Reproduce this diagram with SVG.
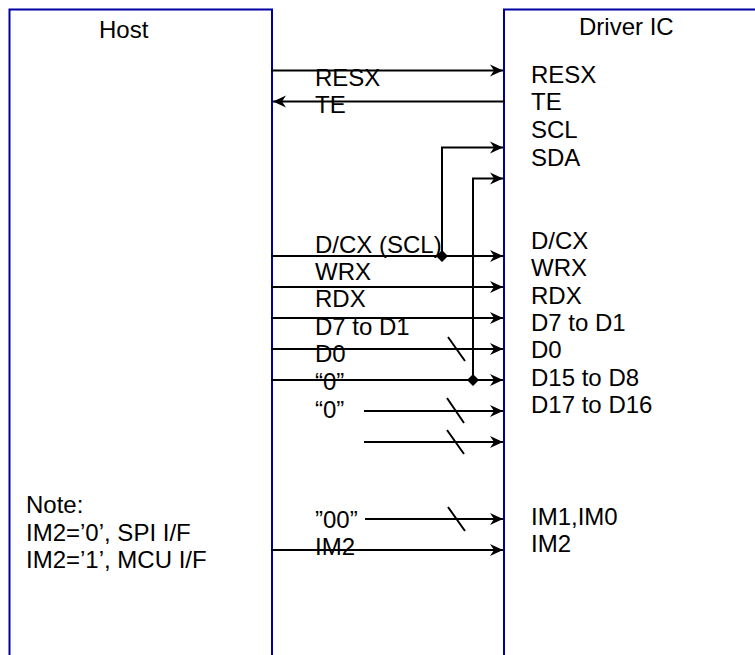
<svg xmlns="http://www.w3.org/2000/svg" width="755" height="655" viewBox="0 0 755 655">
<style>
text{font-family:"Liberation Sans",Arial,sans-serif;font-size:24px;fill:#000}
.box{fill:none;stroke:#0000a0;stroke-width:2}
.c{fill:none;stroke:#000;stroke-width:2}
.a{marker-end:url(#arrow)}
</style>
<defs>
<marker id="arrow" markerUnits="userSpaceOnUse" markerWidth="14" markerHeight="14" refX="13" refY="7" orient="auto"><path d="M0 1L13 7L0 13L4 7Z" fill="#000"/></marker>
</defs>
<rect width="755" height="655" fill="#fff"/>
<g id="host"><path class="box" d="M9.500 655V9.500H272V655"/><text x="99" y="38">Host</text>
<text x="26" y="513">Note:</text><text x="26" y="541">IM2=’0’, SPI I/F</text><text x="26" y="568">IM2=’1’, MCU I/F</text></g>
<g id="driver"><path class="box" d="M504 655V9.500H755"/>
<text x="579" y="35">Driver IC</text>
<text x="531" y="83">RESX</text><text x="531" y="110">TE</text><text x="531" y="138">SCL</text><text x="531" y="166">SDA</text>
<text x="531" y="249">D/CX</text><text x="531" y="276">WRX</text><text x="531" y="304">RDX</text><text x="531" y="331">D7 to D1</text><text x="531" y="358">D0</text><text x="531" y="386">D15 to D8</text><text x="531" y="413">D17 to D16</text>
<text x="531" y="525">IM1,IM0</text><text x="531" y="552">IM2</text></g>
<g id="labels">
<text x="315" y="86">RESX</text><text x="315" y="113">TE</text>
<text x="315" y="253">D/CX (SCL)</text><text x="315" y="280">WRX</text><text x="315" y="307">RDX</text><text x="315" y="335">D7 to D1</text><text x="315" y="362">D0</text><text x="315" y="390">“0”</text><text x="315" y="418">“0”</text>
<text x="315" y="528">”00”</text><text x="315" y="555">IM2</text>
</g>
<g id="connectors">
<path class="c a" d="M271 70.500H503"/>
<path class="c a" d="M505 101.500H273"/>
<path class="c a" d="M442 256V147.500H503"/>
<path class="c a" d="M473 380V178.500H503"/>
<path class="c a" d="M271 256H503"/>
<path class="c a" d="M271 287H503"/>
<path class="c a" d="M271 318H503"/>
<path class="c a" d="M271 349H503"/>
<path class="c a" d="M271 380H503"/>
<path class="c a" d="M364 411H503"/>
<path class="c a" d="M364 442H503"/>
<path class="c a" d="M365 519H503"/>
<path class="c a" d="M271 550H503"/>
<path class="c" d="M448 337L465 361M447 398L464 423M447 430L464 454M448 507L465 531"/>
<path d="M442 250L448 256L442 262L436 256Z M473 374L479 380L473 386L467 380Z" fill="#000"/>
</g>
</svg>
